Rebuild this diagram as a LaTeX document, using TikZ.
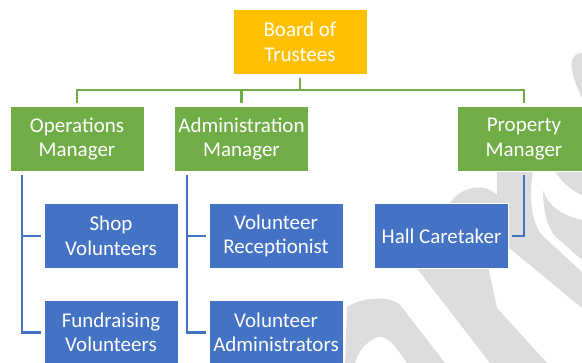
\documentclass[tikz,border=0pt]{standalone}
\usepackage{fontspec}
\setmainfont{Carlito}
\definecolor{gold}{HTML}{FFC000}
\definecolor{leaf}{HTML}{70AD47}
\definecolor{sea}{HTML}{4472C4}
\definecolor{wm}{HTML}{DDDDDD}
\begin{document}
\begin{tikzpicture}[x=1pt,y=-1pt,
  box/.style={rectangle, minimum width=134pt, minimum height=65pt, inner sep=0pt,
    align=center, text=white, font=\fontsize{21}{24.5}\selectfont,
    draw=white, line width=0.8pt},
  topbox/.style={box, fill=gold},
  midbox/.style={box, fill=leaf},
  lowbox/.style={box, fill=sea},
  gline/.style={draw=leaf, line width=2.6pt},
  bline/.style={draw=sea, line width=2.2pt}]
\useasboundingbox (0,0) rectangle (582,363);
\clip (0,0) rectangle (582,363);
% watermark
\fill[wm] (582,53) .. controls (574,52) and (570,62) .. (572,70) .. controls (574,80) and (578,90) .. (582,98) -- cycle;
\fill[wm] (446,262) -- (446,215) .. controls (448,192) and (480,178) .. (497,195) -- (497,171) -- (533,171) .. controls (529,195) and (530,225) .. (545,238) -- (582,272) -- (582,308) -- (508,247) -- (508,262) -- cycle;
\fill[wm] (415,266) -- (488,266) -- (497,308) -- (547,363) -- (490,363) -- cycle;
\fill[wm] (543,190) .. controls (548,205) and (560,215) .. (582,220) -- (582,260) -- (556,237) .. controls (547,228) and (543,210) .. (543,190) -- cycle;
\fill[wm] (555,171) -- (582,171) -- (582,195) .. controls (570,190) and (560,180) .. (555,171) -- cycle;
\fill[wm] (345,363) -- (347,307) .. controls (362,297) and (392,295) .. (401,306) -- (445,363) -- (407,363) .. controls (395,345) and (386,335) .. (378,337) .. controls (366,341) and (358,352) .. (355,363) -- cycle;
% boxes
\node[topbox] (board) at (300,41.8) {Board of\\Trustees};
\node[midbox] (ops) at (77,139.2) {Operations\\Manager};
\node[midbox] (adm) at (241.5,139.2) {Administration\\Manager};
\node[midbox] (prop) at (524,139.2) {Property\\Manager};
\node[lowbox] (shop) at (111,235.8) {Shop\\Volunteers};
\node[lowbox] (fund) at (111,332.5) {Fundraising\\Volunteers};
\node[lowbox] (recep) at (276,235.8) {Volunteer\\Receptionist};
\node[lowbox] (vadm) at (276,332.5) {Volunteer\\Administrators};
\node[lowbox] (hall) at (441.5,235.8) {Hall Caretaker};
% connectors
\coordinate (bus) at (300,90);
\draw[gline, shorten <=3pt] (board.south) -- (bus);
\draw[gline, shorten <=3pt, shorten >=3pt] (ops.north) |- (bus) -| (prop.north);
\draw[gline, shorten <=3pt] (adm.north) -- (adm.north |- bus);
\draw[bline, shorten <=3pt, shorten >=3pt] ([xshift=-55pt]ops.south) |- (shop.west);
\draw[bline, shorten <=3pt, shorten >=3pt] ([xshift=-55pt]ops.south) |- (fund.west);
\draw[bline, shorten <=3pt, shorten >=3pt] ([xshift=-54.5pt]adm.south) |- (recep.west);
\draw[bline, shorten <=3pt, shorten >=3pt] ([xshift=-54.5pt]adm.south) |- (vadm.west);
\draw[bline, shorten <=3pt, shorten >=3pt] (prop.south) |- (hall.east);
\end{tikzpicture}
\end{document}
